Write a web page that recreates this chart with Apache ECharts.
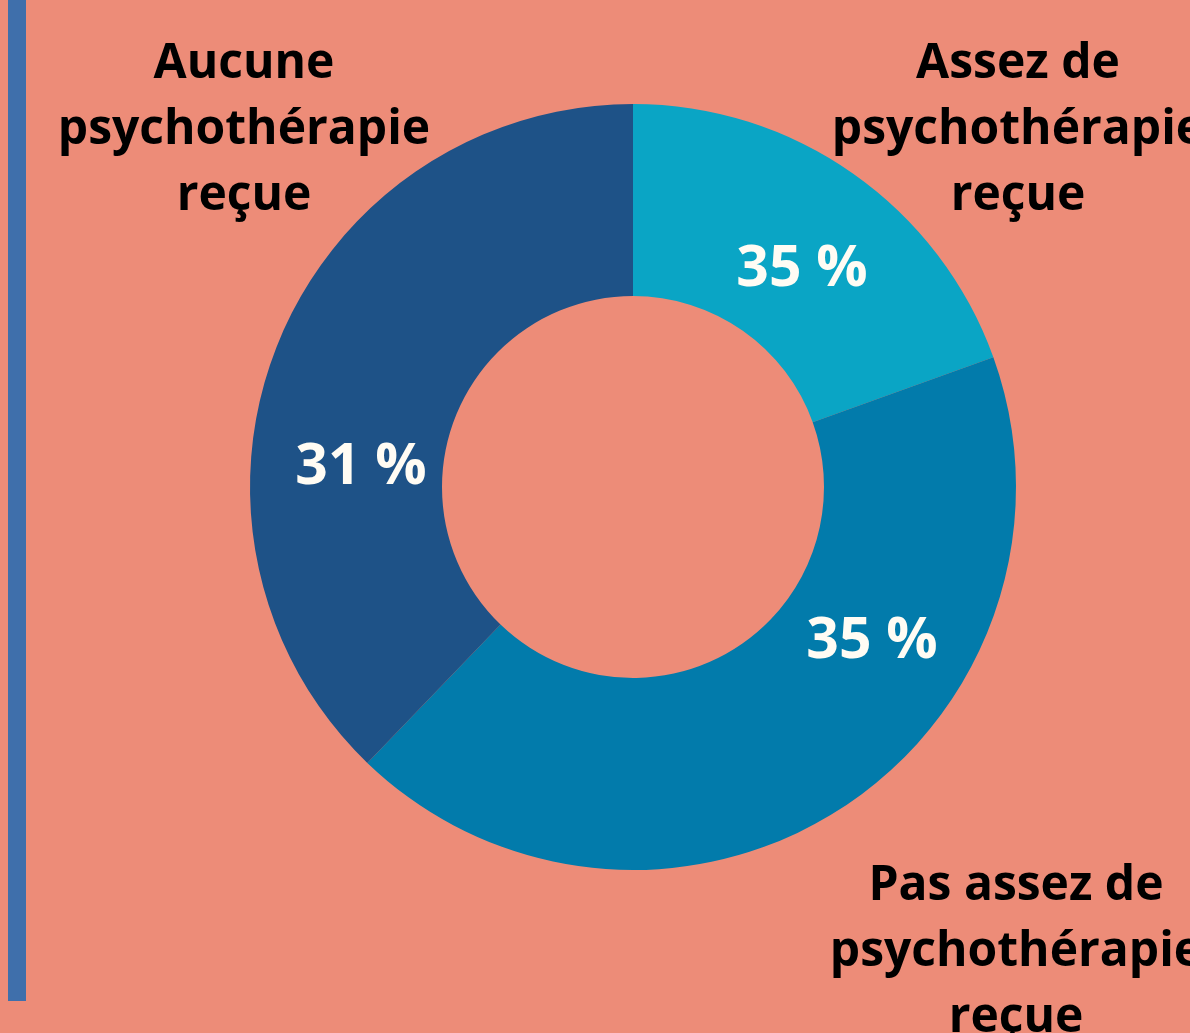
<!DOCTYPE html>
<html>
<head>
<meta charset="utf-8">
<style>
  html, body { margin: 0; padding: 0; background: #ED8C78; }
  #chart { width: 1190px; height: 1033px; }
</style>
<script src="https://cdn.jsdelivr.net/npm/echarts@6/dist/echarts.min.js"></script>
</head>
<body>
<div id="chart"></div>
<script>
  // --- données ---
  var categories = ["Assez de psychothérapie reçue", "Pas assez de psychothérapie reçue", "Aucune psychothérapie reçue"];
  var values = [19.5, 42.7, 37.8];
  var pctLabels = ["35 %", "35 %", "31 %"];  // textes affichés sur les parts
  var nameLines = [
    ["Assez de", "psychothérapie", "reçue"],
    ["Pas assez de", "psychothérapie", "reçue"],
    ["Aucune", "psychothérapie", "reçue"]
  ];
  var colors = ["#0AA5C5", "#027BAB", "#1E5287"];

  // --- mise en page (pixels) ---
  var FONT = "'Open Sans', 'Noto Sans', sans-serif";
  var pctPos  = [[802, 270], [872, 642], [361, 468]];
  var namePos = [[1018, 130], [1016, 952], [244, 130]];

  var graphics = [
    { type: "rect", left: 8, top: 0, shape: { width: 18, height: 1001 }, style: { fill: "#3F6FAB" } }
  ];
  pctLabels.forEach(function(t, i){
    graphics.push({ type: "text", x: pctPos[i][0], y: pctPos[i][1], z: 10,
      style: { text: t, fill: "#FFFCF4", font: "bold 57px " + FONT, textAlign: "center", textVerticalAlign: "middle" } });
  });
  nameLines.forEach(function(lines, i){
    graphics.push({ type: "text", x: namePos[i][0], y: namePos[i][1], z: 10,
      style: { text: lines.join("\n"), fill: "#000", font: "bold 48px " + FONT, lineHeight: 66,
               textAlign: "center", textVerticalAlign: "middle" } });
  });

  var chart = echarts.init(document.getElementById("chart"), null, { renderer: "canvas" });
  chart.setOption({
    backgroundColor: "#ED8C78",
    animation: false,
    series: [{
      type: "pie",
      center: [633, 487],
      radius: [191, 383],
      startAngle: 90,
      clockwise: true,
      label: { show: false },
      labelLine: { show: false },
      itemStyle: { borderWidth: 0 },
      emphasis: { disabled: true },
      data: categories.map(function(c, i){ return { name: c, value: values[i], itemStyle: { color: colors[i] } }; })
    }],
    graphic: graphics
  });
</script>
</body>
</html>
